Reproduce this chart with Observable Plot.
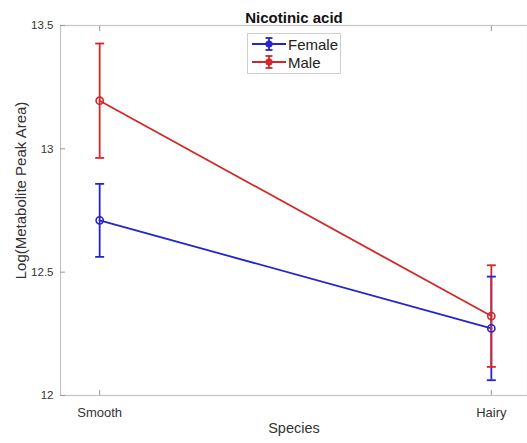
<!DOCTYPE html>
<html>
<head>
<meta charset="utf-8">
<script src="https://cdn.jsdelivr.net/npm/d3@7"></script>
<script src="https://cdn.jsdelivr.net/npm/@observablehq/plot@0.6"></script>
<style>
  body { margin: 0; background: #fff; font-family: "Liberation Sans", Arial, sans-serif; }
  #wrap { position: relative; width: 527px; height: 443px; overflow: hidden; }
  #legend {
    position: absolute; left: 247px; top: 33px; width: 94px; height: 41px;
    box-sizing: border-box; border: 1px solid #cfcfcf; background: #fff;
    font-size: 15px; color: #222; padding-top: 1px;
  }
  #legend .row { display: flex; align-items: center; height: 18px; }
  #legend svg { margin-left: 3px; margin-right: 1px; }
  g[aria-label="y-title"] text { letter-spacing: 1px; }
  g[aria-label="x-title"] text { letter-spacing: 0.5px; }
</style>
</head>
<body>
<div id="wrap"><div id="legend"></div></div>
<script>
// Species on the x axis and group statistics (mean ± standard error)
const species = ["Smooth", "Hairy"];
const groups = ["Female", "Male"];
const femaleMean = [12.710, 12.272];
const femaleErr = [0.148, 0.210];
const maleMean = [13.195, 12.322];
const maleErr = [0.232, 0.206];
const yTicks = [12, 12.5, 13, 13.5];
const colors = {Female: "#2424cc", Male: "#d42828"};

const rows = [];
species.forEach((s, i) => {
  rows.push({group: "Female", pos: i + 1, mean: femaleMean[i], err: femaleErr[i]});
  rows.push({group: "Male", pos: i + 1, mean: maleMean[i], err: maleErr[i]});
});
rows.forEach(d => { d.lo = d.mean - d.err; d.hi = d.mean + d.err; });

// horizontal cap used at the ends of each error bar
const cap = {draw(ctx, size) { const r = Math.sqrt(size / Math.PI); ctx.moveTo(-r, 0); ctx.lineTo(r, 0); }};

const font = "Liberation Sans, Arial, sans-serif";

const chart = Plot.plot({
  width: 527,
  height: 443,
  marginLeft: 60,
  marginTop: 25,
  marginBottom: 48,
  marginRight: 0,
  style: {fontFamily: font, background: "#fff", color: "#333"},
  x: {domain: [0.9, 2.1], range: [60, 530]},
  y: {domain: [12, 13.5]},
  marks: [
    Plot.frame({stroke: "#c4c4c4", strokeWidth: 1.2}),
    // inward tick marks
    Plot.axisX([1, 2], {tickSize: -5, text: null, stroke: "#999", anchor: "bottom", label: null}),
    Plot.axisX([1, 2], {tickSize: -5, text: null, stroke: "#999", anchor: "top", label: null}),
    Plot.axisY(yTicks, {tickSize: -5, text: null, stroke: "#999", label: null}),
    Plot.axisX([1, 2], {
      tickSize: 0, tickPadding: 12, fontSize: 13, fill: "#333",
      tickFormat: d => species[d - 1], label: null
    }),
    Plot.axisY(yTicks, {
      tickSize: 0, tickPadding: 7, fontSize: 11.5, fill: "#333",
      tickFormat: d => String(d), label: null
    }),
    Plot.text(["Species"], {frameAnchor: "bottom", dy: 37, fontSize: 14.5, fill: "#333", ariaLabel: "x-title"}),
    Plot.text(["Log(Metabolite Peak Area)"], {
      frameAnchor: "left", textAnchor: "middle", dx: -39, dy: -20, rotate: -90,
      fontSize: 15, fill: "#333", ariaLabel: "y-title"
    }),
    Plot.line(rows, {x: "pos", y: "mean", z: "group", stroke: d => colors[d.group], strokeWidth: 1.8}),
    Plot.ruleX(rows, {x: "pos", y1: "lo", y2: "hi", stroke: d => colors[d.group], strokeWidth: 1.8}),
    Plot.dot(rows, {x: "pos", y: "lo", symbol: cap, r: 4.5, stroke: d => colors[d.group], strokeWidth: 1.8}),
    Plot.dot(rows, {x: "pos", y: "hi", symbol: cap, r: 4.5, stroke: d => colors[d.group], strokeWidth: 1.8}),
    Plot.dot(rows, {x: "pos", y: "mean", r: 3.6, stroke: d => colors[d.group], strokeWidth: 1.6, fill: "none"}),
    Plot.text(["Nicotinic acid"], {frameAnchor: "top", dy: -13, fontSize: 15, fontWeight: "bold", fill: "#111"})
  ]
});
const wrap = document.getElementById("wrap");
wrap.insertBefore(chart, wrap.firstChild);

// legend entries: line with error bar and filled marker
const legend = document.getElementById("legend");
groups.forEach(g => {
  const c = colors[g];
  const row = document.createElement("div");
  row.className = "row";
  row.innerHTML =
    `<svg width="36" height="18">
       <line x1="1" x2="35" y1="9" y2="9" stroke="${c}" stroke-width="1.8"/>
       <line x1="18" x2="18" y1="3" y2="15" stroke="${c}" stroke-width="1.8"/>
       <line x1="14.5" x2="21.5" y1="3" y2="3" stroke="${c}" stroke-width="1.8"/>
       <line x1="14.5" x2="21.5" y1="15" y2="15" stroke="${c}" stroke-width="1.8"/>
       <circle cx="18" cy="9" r="3.6" fill="${c}"/>
     </svg><span>${g}</span>`;
  legend.appendChild(row);
});
</script>
</body>
</html>
